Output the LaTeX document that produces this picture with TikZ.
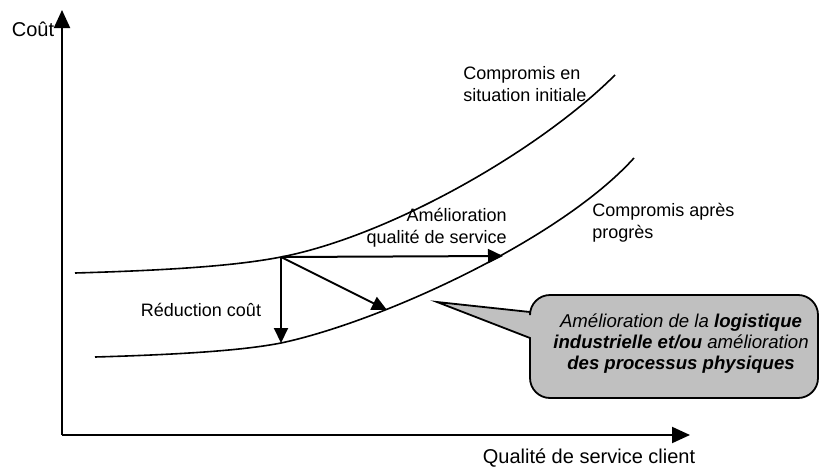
\documentclass[tikz,border=0pt]{standalone}
\usepackage{fontspec}
\setmainfont{Liberation Sans}
\usetikzlibrary{arrows.meta}
\definecolor{bubblegray}{RGB}{192,192,192}
\begin{document}
\begin{tikzpicture}[x=0.5pt,y=-0.5pt,
  axis/.style={line width=1pt,-{Triangle[length=9pt,width=8pt]}},
  curve/.style={line width=0.8pt},
  move/.style={line width=1pt,-{Triangle[length=7.5pt,width=7pt]}},
  lbl/.style={font=\fontsize{9}{11}\selectfont,inner sep=0pt},
  axlbl/.style={font=\fontsize{10}{12}\selectfont,inner sep=0pt},
  bubble/.style={line width=0.9pt,fill=bubblegray},
  bubbletext/.style={font=\fontsize{9.3}{10.5}\selectfont\itshape,inner sep=0pt,align=center}
]
\useasboundingbox (0,0) rectangle (824,471);
% axes
\coordinate (O) at (62,435);
\coordinate (ytip) at (62,10);
\coordinate (xtip) at (690,435);
\draw[axis] (O) -- (ytip);
\draw[axis] (O) -- (xtip);
\node[axlbl] (cout) at (33,29) {Coût};
\node[axlbl] (qsc) at (589,458) {Qualité de service client};
% curves
\draw[curve] (75,273) .. controls (180,270) and (240,265) .. (281,257)
  .. controls (390,236) and (540,150) .. (615,75);
\draw[curve] (95,357) .. controls (200,354) and (250,349) .. (281,343)
  .. controls (380,322) and (560,240) .. (634,158);
% moves
\coordinate (A) at (281,257);
\coordinate (B) at (281,343);
\coordinate (C) at (503,256);
\coordinate (D) at (387,310);
\draw[move] (A) -- (B);
\draw[move] (A) -- (C);
\draw[move] (A) -- (D);
% labels
\node[lbl,align=left,anchor=west] (init) at (463,84) {Compromis en\\situation initiale};
\node[lbl,align=left,anchor=west] (apres) at (592,223) {Compromis après\\progrès};
\node[lbl,align=right,anchor=east] (amel) at (507,228) {Amélioration\\qualité de service};
\node[lbl] (red) at (201,310) {Réduction coût};
% callout
\draw[bubble] (437,302) -- (530,312) [rounded corners=10pt] -- (530,295) -- (818,295) -- (818,398) -- (530,398) [sharp corners] -- (530,338) -- cycle;
\node[bubbletext] (bt) at (681,344) {Amélioration de la \textbf{logistique}\\\textbf{industrielle et/ou} amélioration\\\textbf{des processus physiques}};
\end{tikzpicture}
\end{document}
